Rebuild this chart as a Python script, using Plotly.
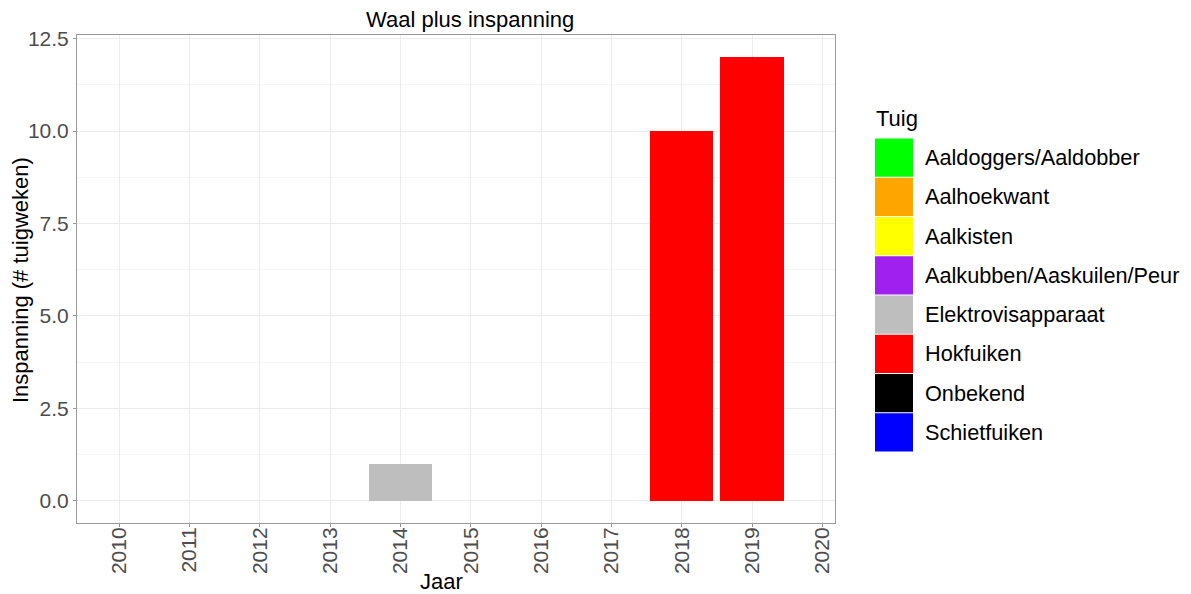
import plotly.graph_objects as go

years = list(range(2010, 2021))
gear_types = ["Aaldoggers/Aaldobber", "Aalhoekwant", "Aalkisten",
              "Aalkubben/Aaskuilen/Peur", "Elektrovisapparaat", "Hokfuiken",
              "Onbekend", "Schietfuiken"]
gear_colors = ["#00ff00", "#ffa500", "#ffff00", "#a020f0", "#bebebe",
               "#ff0000", "#000000", "#0000ff"]
# effort per gear type per year
effort = {
    "Elektrovisapparaat": {2014: 1},
    "Hokfuiken": {2018: 10, 2019: 12},
}
y_ticks = [0, 2.5, 5.0, 7.5, 10.0, 12.5]
y_tick_labels = ["0.0", "2.5", "5.0", "7.5", "10.0", "12.5"]

OFF = 8  # page body margin
W, H = 1191 - OFF, 594 - OFF
# panel edges in page pixels
PL, PR, PT, PB = 77, 835, 35, 523
pl, pr, pt, pb = PL - OFF, PR - OFF, PT - OFF, PB - OFF

fig = go.Figure()
for gear, col in zip(gear_types, gear_colors):
    vals = effort.get(gear, {})
    xs = [y for y in years if y in vals]
    ys = [vals[y] for y in xs]
    if not xs:
        continue
    fig.add_trace(go.Bar(x=xs, y=ys, name=gear, marker=dict(color=col, line=dict(width=0)),
                         width=0.9, showlegend=False))

def px_x(p):  # page px -> paper
    return (p - PL) / (PR - PL)

def px_y(p):
    return (PB - p) / (PB - PT)

shapes = []
annotations = []
FONT = "Liberation Sans, Arial, sans-serif"
annotations.append(dict(text="Tuig", x=px_x(874), y=px_y(118), xref="paper", yref="paper",
                        xanchor="left", yanchor="middle", showarrow=False,
                        font=dict(size=22, color="#000000")))
key_top, key_h = 138, 39.25
for i, (gear, col) in enumerate(zip(gear_types, gear_colors)):
    y0 = key_top + i * key_h
    shapes.append(dict(type="rect", xref="paper", yref="paper",
                       x0=px_x(875), x1=px_x(913), y0=px_y(y0 + 0.5), y1=px_y(y0 + key_h - 0.5),
                       fillcolor=col, line=dict(width=0)))
    annotations.append(dict(text=gear, x=px_x(923), y=px_y(y0 + key_h / 2), xref="paper", yref="paper",
                            xanchor="left", yanchor="middle", showarrow=False,
                            font=dict(size=21.7, color="#000000")))
# axis titles
annotations.append(dict(text="Jaar", x=px_x(441), y=px_y(581), xref="paper", yref="paper",
                        xanchor="center", yanchor="middle", showarrow=False,
                        font=dict(size=22, color="#000000")))
annotations.append(dict(text="Inspanning (# tuigweken)", x=px_x(20), y=px_y(280), xref="paper",
                        yref="paper", xanchor="center", yanchor="middle", showarrow=False,
                        textangle=-90, font=dict(size=22, color="#000000")))
annotations.append(dict(text="Waal plus inspanning", x=px_x(470), y=px_y(20), xref="paper",
                        yref="paper", xanchor="center", yanchor="middle", showarrow=False,
                        font=dict(size=22, color="#000000")))

fig.update_layout(
    width=W, height=H,
    margin=dict(l=pl, r=W - pr, t=pt, b=H - pb, pad=0),
    paper_bgcolor="white", plot_bgcolor="white",
    font=dict(family=FONT),
    barmode="stack",
    showlegend=False,
    shapes=shapes,
    annotations=annotations,
)
fig.update_xaxes(
    range=[2009.4, 2020.18], tickmode="array", tickvals=years,
    ticktext=[str(y) for y in years], tickangle=-90,
    tickfont=dict(size=21, color="#4d4d4d"),
    ticklabelstandoff=-8,
    showgrid=True, gridcolor="#ececec", gridwidth=1,
    showline=True, linecolor="#9a9a9a", linewidth=1, mirror=True,
    ticks="outside", ticklen=3, tickcolor="#9a9a9a",
    zeroline=False,
)
fig.update_yaxes(
    range=[-0.6, 12.6], tickmode="array", tickvals=y_ticks, ticktext=y_tick_labels,
    tickfont=dict(size=21, color="#4d4d4d"),
    showgrid=True, gridcolor="#ececec", gridwidth=1,
    minor=dict(tickmode="array", tickvals=[1.25, 3.75, 6.25, 8.75, 11.25],
               showgrid=True, gridcolor="#f6f6f6", gridwidth=1),
    showline=True, linecolor="#9a9a9a", linewidth=1, mirror=True,
    ticks="outside", ticklen=3, tickcolor="#9a9a9a",
    zeroline=False,
)
fig.write_html("out.html")
